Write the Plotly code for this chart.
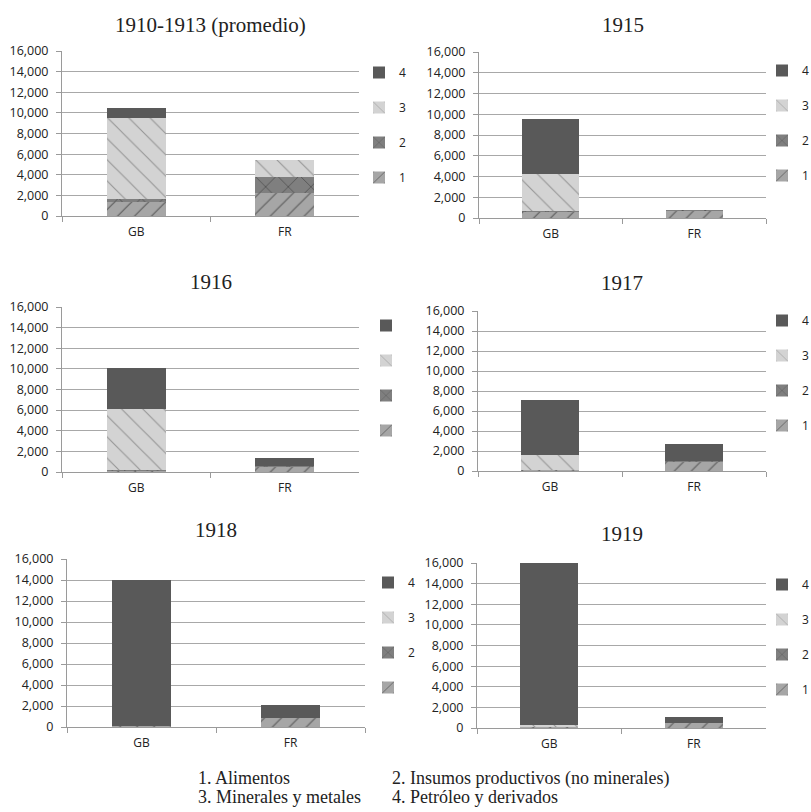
import plotly.graph_objects as go

# ---------------- data ----------------
countries = ["GB", "FR"]
periods = ["1910-1913 (promedio)", "1915", "1916", "1917", "1918", "1919"]

alimentos_gb = [1400, 580, 150, 100, 50, 150]
alimentos_fr = [2200, 700, 550, 930, 900, 500]
insumos_gb = [250, 100, 20, 20, 0, 20]
insumos_fr = [1620, 40, 30, 50, 0, 30]
minerales_gb = [7900, 3550, 5900, 1510, 0, 150]
minerales_fr = [1620, 0, 0, 0, 0, 0]
petroleo_gb = [970, 5320, 4060, 5480, 13950, 15680]
petroleo_fr = [0, 0, 740, 1740, 1190, 500]

series_keys = ["1", "2", "3", "4"]
legend_labels = [
    ["1", "2", "3", "4"],
    ["1", "2", "3", "4"],
    ["", "", "", ""],
    ["1", "2", "3", "4"],
    ["", "2", "3", "4"],
    ["1", "2", "3", "4"],
]
notes = ["1. Alimentos", "2. Insumos productivos (no minerales)",
         "3. Minerales y metales", "4. Petróleo y derivados"]

y_ticks = [0, 2000, 4000, 6000, 8000, 10000, 12000, 14000, 16000]

# ---------------- styling ----------------
W, H = 811, 812
styles = {
    "1": dict(color="#a6a6a6", pattern=dict(shape="/", fgcolor="#111111", size=12, solidity=0.1)),
    "2": dict(color="#7f7f7f", pattern=dict(shape="x", fgcolor="#222222", size=16, solidity=0.1)),
    "3": dict(color="#d3d3d3", pattern=dict(shape="\\", fgcolor="#555555", size=15, solidity=0.07)),
    "4": dict(color="#595959"),
}

# panel geometry in pixels: (x0, x1, ytop, ybottom)
panels_px = [
    (62, 359, 51, 216),
    (479, 766, 52, 218),
    (62, 359, 307, 472),
    (478, 766, 311, 471),
    (67, 365, 559, 727),
    (477, 766, 563, 728),
]
title_y_px = [25, 25, 282, 283, 530, 534]
legend_px = [(359, 58), (762, 56), (366, 311), (762, 306), (368, 568), (762, 570)]

fig = go.Figure()

series = {
    "1": (alimentos_gb, alimentos_fr),
    "2": (insumos_gb, insumos_fr),
    "3": (minerales_gb, minerales_fr),
    "4": (petroleo_gb, petroleo_fr),
}

font_sans = "Open Sans"
font_serif = "Liberation Serif"

annotations = []
for i, period in enumerate(periods):
    n = "" if i == 0 else str(i + 1)
    lg = "legend" if i == 0 else f"legend{i + 1}"
    for j, k in enumerate(series_keys):
        gb, fr = series[k]
        fig.add_trace(go.Bar(
            x=countries, y=[gb[i], fr[i]],
            name=legend_labels[i][j],
            marker=dict(line=dict(width=0), **styles[k]),
            width=0.4,
            xaxis="x" + n, yaxis="y" + n,
            legend=lg, legendgroup=f"p{i}s{k}", legendrank=10 - j,
            showlegend=True,
        ))
    x0, x1, yt, yb = panels_px[i]
    layout_axes = {
        "xaxis" + n: dict(
            domain=[x0 / W, x1 / W], anchor="y" + n,
            showline=True, linecolor="#9a9a9a", linewidth=1,
            ticks="outside", tickson="boundaries", ticklen=5, tickcolor="#9a9a9a",
            tickfont=dict(family=font_sans, size=12, color="#222"),
            ticklabelstandoff=5,
            showgrid=False, fixedrange=True,
        ),
        "yaxis" + n: dict(
            domain=[1 - yb / H, 1 - yt / H], anchor="x" + n,
            range=[0, 16000], tickvals=y_ticks, tickformat=",",
            showline=True, linecolor="#9a9a9a", linewidth=1,
            ticks="outside", ticklen=5, tickcolor="#9a9a9a",
            showgrid=True, gridcolor="#a8a8a8", gridwidth=1,
            tickfont=dict(family=font_sans, size=12.5, color="#222"),
            ticklabelstandoff=5,
            zeroline=False, fixedrange=True,
        ),
    }
    fig.update_layout(**layout_axes)
    lx, ly = legend_px[i]
    fig.update_layout(**{lg: dict(
        x=lx / W, y=1 - ly / H, xanchor="left", yanchor="top",
        traceorder="grouped", tracegroupgap=16,
        font=dict(family=font_sans, size=12, color="#222"),
        bgcolor="rgba(0,0,0,0)", itemwidth=30,
    )})
    annotations.append(dict(
        text=period, x=(x0 + x1) / 2 / W, y=1 - title_y_px[i] / H,
        xref="paper", yref="paper", xanchor="center", yanchor="middle",
        showarrow=False, font=dict(family=font_serif, size=21, color="#222"),
    ))

note_pos = [(196, 778), (390, 778), (196, 797), (390, 797)]
for t, (nx, ny) in zip(notes, note_pos):
    annotations.append(dict(
        text=t, x=nx / W, y=1 - ny / H, xref="paper", yref="paper",
        xanchor="left", yanchor="middle", showarrow=False,
        font=dict(family=font_serif, size=18, color="#222"),
    ))

fig.update_layout(
    width=W, height=H, margin=dict(l=0, r=0, t=0, b=0, autoexpand=False),
    paper_bgcolor="white", plot_bgcolor="white",
    barmode="stack", annotations=annotations,
    hovermode=False,
)

fig.write_html("out.html", config={"displayModeBar": False},
               post_script="document.body.style.margin='0';")
